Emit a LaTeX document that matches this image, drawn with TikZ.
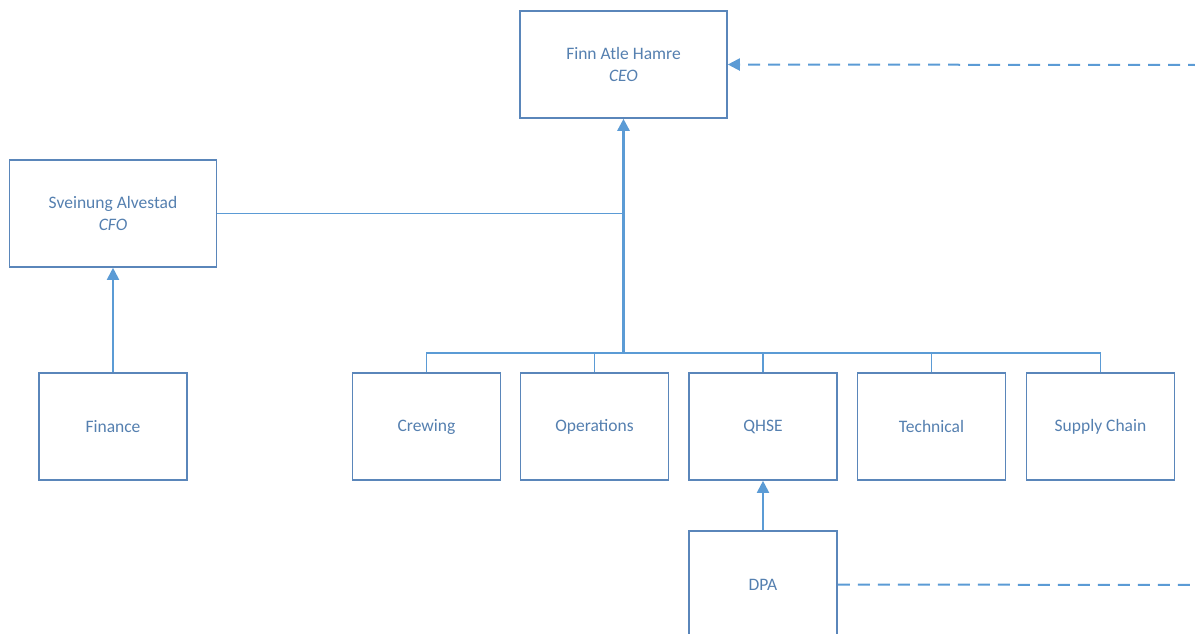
\documentclass[tikz,border=0pt]{standalone}
\usepackage{fontspec}
\setmainfont{Carlito}
\usetikzlibrary{arrows.meta}
\definecolor{boxc}{HTML}{5A86BA}
\definecolor{linec}{HTML}{5B9BD5}
\definecolor{txtc}{HTML}{5580B0}
\tikzset{
  orgbox/.style={draw=boxc, line width=1.6pt, fill=white, minimum width=148pt, minimum height=107pt, inner sep=0pt, align=center, text=txtc, font=\fontsize{17.5}{22}\selectfont},
  bigbox/.style={orgbox, minimum width=207pt},
  conn/.style={draw=linec, line width=1.9pt},
  arr/.style={conn, -{Triangle[length=12pt,width=12pt]}},
  dashline/.style={conn, line width=2pt, dash pattern=on 12pt off 8pt}
}
\begin{document}
\begin{tikzpicture}[x=1pt,y=-1pt]
\useasboundingbox (0,0) rectangle (1195,633);
\node[bigbox] (ceo) at (623.5,64.5) {Finn Atle Hamre\\\textit{CEO}};
\node[bigbox] (cfo) at (113,213.5) {Sveinung Alvestad\\\textit{CFO}};
\node[orgbox] (fin) at (113,426.5) {Finance};
\node[orgbox] (crew) at (426.5,426.5) {Crewing};
\node[orgbox] (ops) at (594.5,426.5) {Operations};
\node[orgbox] (qhse) at (763,426.5) {QHSE};
\node[orgbox] (tech) at (931.5,426.5) {Technical};
\node[orgbox] (sup) at (1100.5,426.5) {Supply Chain};
\node[orgbox] (dpa) at (763,584.5) {DPA};
\coordinate (bus) at (623.5,353);
\coordinate (ceoin) at (1200,65);
\coordinate (dpaout) at (1200,585);
% bus
\draw[conn] (crew.north) |- (bus) -| (sup.north);
\draw[conn] (ops.north) |- (bus);
\draw[conn] (qhse.north) |- (bus);
\draw[conn] (tech.north) |- (bus);
\draw[conn] (cfo.east) -- (cfo.east -| ceo.south);
\draw[arr, line width=2.6pt] (bus) -- (ceo.south);
\draw[arr] (fin.north) -- (cfo.south);
\draw[arr] (dpa.north) -- (qhse.south);
\draw[dashline, -{Triangle[length=12pt,width=12pt]}] (ceoin) -- (ceo.east);
\draw[dashline] (dpa.east) -- (dpaout);
\end{tikzpicture}
\end{document}
